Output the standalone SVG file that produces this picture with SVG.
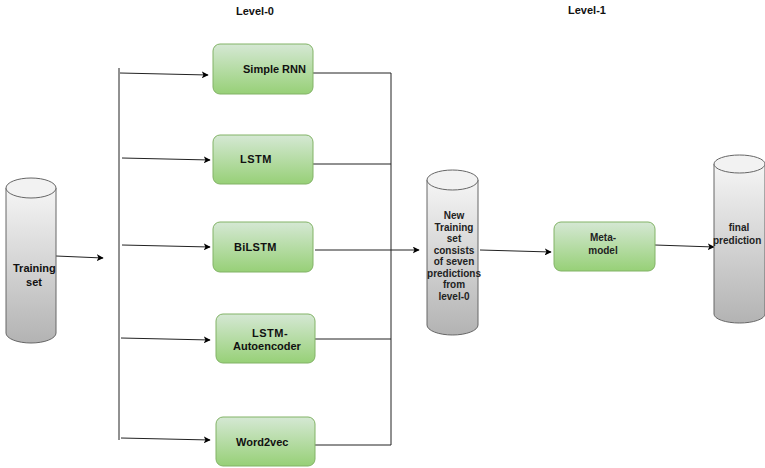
<svg xmlns="http://www.w3.org/2000/svg" width="765" height="468" viewBox="0 0 765 468">
<defs>
<linearGradient id="gGreen" x1="0" y1="0" x2="0" y2="1">
<stop offset="0" stop-color="#d5e8d4"/>
<stop offset="1" stop-color="#97d077"/>
</linearGradient>
<linearGradient id="gGray" x1="0" y1="0" x2="0" y2="1">
<stop offset="0" stop-color="#f5f5f5"/>
<stop offset="1" stop-color="#b3b3b3"/>
</linearGradient>
<marker id="arr" viewBox="0 0 10 10" refX="9" refY="5" markerWidth="7" markerHeight="7" markerUnits="userSpaceOnUse" orient="auto">
<path d="M0,0 L10,5 L0,10 L2.5,5 Z" fill="#000"/>
</marker>
<style>
.box{fill:url(#gGreen);stroke:#82b366;stroke-width:1}
.cyl{fill:url(#gGray);stroke:#666;stroke-width:1}
.cap{fill:#f2f2f2;stroke:#666;stroke-width:1}
.t{font-family:"Liberation Sans",Arial,sans-serif;font-size:11px;fill:#111}
.s{font-size:10px;fill:#222}
.b{font-weight:bold}
.c{text-anchor:middle}
.ln{stroke:#222;stroke-width:1;fill:none}
.ar{stroke:#222;stroke-width:1;fill:none;marker-end:url(#arr)}
</style>
</defs>
<rect width="765" height="468" fill="#fff"/>

<text class="t b" x="236" y="15">Level-0</text>
<text class="t b" x="568" y="14">Level-1</text>

<g id="connectors">
<path class="ar" d="M56,256 L103,258"/>
<path class="ln" d="M119,68 L119,440"/>
<path class="ar" d="M120,73 L208,75"/>
<path class="ar" d="M122,158 L210,160"/>
<path class="ar" d="M122,245 L210,247"/>
<path class="ar" d="M121,338 L210,340"/>
<path class="ar" d="M121,438 L210,440"/>
<path class="ln" d="M313,73 L391,73"/>
<path class="ln" d="M313,164 L391,164"/>
<path class="ln" d="M315,339 L391,339"/>
<path class="ln" d="M315,445 L391,445"/>
<path class="ln" d="M391,73 L391,445"/>
<path class="ar" d="M315,250 L419,250"/>
<path class="ar" d="M480,250 L551,252"/>
<path class="ar" d="M655,245 L714,247"/>
</g>

<g id="training-set">
<path class="cyl" d="M6,188 L6,333 A25,10 0 0 0 56,333 L56,188"/>
<ellipse class="cap" cx="31" cy="188" rx="25" ry="10"/>
<text class="t b" x="13" y="272">Training</text>
<text class="t b c" x="34" y="286">set</text>
</g>

<g id="simple-rnn">
<rect class="box" x="213" y="44" width="100" height="50" rx="7"/>
<text class="t b" x="243" y="73">Simple RNN</text>
</g>
<g id="lstm">
<rect class="box" x="213" y="135" width="100" height="49" rx="7"/>
<text class="t b" x="240" y="163" letter-spacing="0.5">LSTM</text>
</g>
<g id="bilstm">
<rect class="box" x="213" y="222" width="100" height="50" rx="7"/>
<text class="t b" x="234" y="251" letter-spacing="0.3">BiLSTM</text>
</g>
<g id="lstm-autoencoder">
<rect class="box" x="216" y="314" width="99" height="49" rx="7"/>
<text class="t b" x="252" y="337" letter-spacing="0.5">LSTM-</text>
<text class="t b" x="233" y="350">Autoencoder</text>
</g>
<g id="word2vec">
<rect class="box" x="216" y="417" width="99" height="49" rx="7"/>
<text class="t b" x="236" y="446">Word2vec</text>
</g>

<g id="new-training-set">
<path class="cyl" d="M427,180 L427,325 A25.5,10 0 0 0 478,325 L478,180"/>
<ellipse class="cap" cx="452.5" cy="180" rx="25.5" ry="10"/>
<g class="t s b c">
<text x="454" y="219">New</text>
<text x="454" y="230.5">Training</text>
<text x="454" y="242">set</text>
<text x="454" y="253.5">consists</text>
<text x="454" y="265">of seven</text>
<text x="454" y="276.5">predictions</text>
<text x="454" y="288">from</text>
<text x="454" y="299.5">level-0</text>
</g>
</g>

<g id="meta-model">
<rect class="box" x="554" y="222" width="101" height="49" rx="7"/>
<text class="t s b c" x="603" y="241">Meta-</text>
<text class="t s b c" x="603" y="254">model</text>
</g>

<g id="final-prediction">
<path class="cyl" d="M714,164 L714,314 A25.5,9 0 0 0 765,314 L765,164"/>
<ellipse class="cap" cx="739.5" cy="164" rx="25.5" ry="9"/>
<text class="t s b c" x="739" y="231">final</text>
<text class="t s b" x="713" y="244">prediction</text>
</g>
</svg>
